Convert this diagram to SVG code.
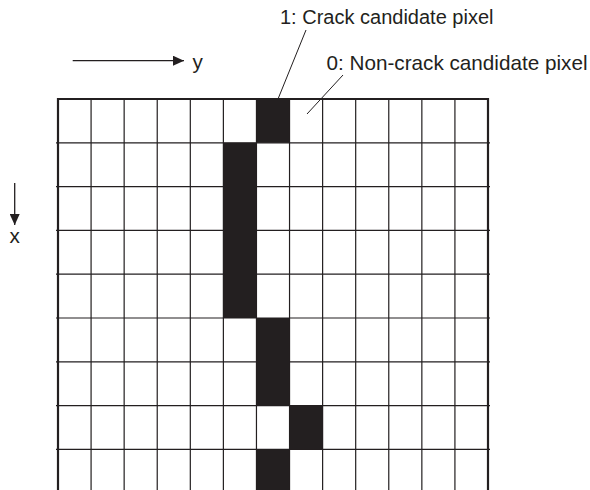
<svg xmlns="http://www.w3.org/2000/svg" width="590" height="490" viewBox="0 0 590 490">
  <style>
    .t { font-family: "Liberation Sans", Arial, Helvetica, sans-serif; font-size: 20px; fill: #231f20; }
    .g { stroke: #231f20; stroke-width: 1.2; fill: none; }
    .b { stroke: #231f20; stroke-width: 2.2; fill: none; }
    .c { fill: #231f20; }
    .ln { stroke: #231f20; stroke-width: 1; fill: none; }
    .ax { stroke: #231f20; stroke-width: 1.3; fill: none; }
  </style>
  <defs>
    <marker id="ah" viewBox="0 0 10 10" refX="10" refY="5" markerWidth="11" markerHeight="10" markerUnits="userSpaceOnUse" orient="auto" preserveAspectRatio="none">
      <path d="M0,0 L10,5 L0,10 Z" fill="#231f20"/>
    </marker>
  </defs>
  <rect width="590" height="490" fill="#ffffff"/>

  <g id="grid">
    <g class="g">
      <path d="M91.08,99V490M124.15,99V490M157.23,99V490M190.31,99V490M223.38,99V490M256.46,99V490M289.54,99V490M322.62,99V490M355.69,99V490M388.77,99V490M421.85,99V490M454.92,99V490"/>
      <path d="M56,142.8H490M56,186.6H490M56,230.4H490M56,274.2H490M56,318H490M56,361.8H490M56,405.6H490M56,449.4H490"/>
    </g>
  </g>

  <g id="cells">
    <rect class="c" x="256.46" y="99" width="33.08" height="43.8"/>
    <rect class="c" x="223.38" y="142.8" width="33.08" height="175.2"/>
    <rect class="c" x="256.46" y="318" width="33.08" height="87.6"/>
    <rect class="c" x="289.54" y="405.6" width="33.08" height="43.8"/>
    <rect class="c" x="256.46" y="449.4" width="33.08" height="40.6"/>
  </g>

  <g id="border">
    <path class="b" d="M58,490V99H488V490"/>
  </g>

  <g id="connectors">
    <line class="ax" x1="72.7" y1="60.7" x2="184" y2="60.7" marker-end="url(#ah)"/>
    <line class="ax" x1="14.7" y1="183" x2="14.7" y2="225" marker-end="url(#ah)"/>
    <line class="ln" x1="306" y1="30" x2="278" y2="99"/>
    <line class="ln" x1="343" y1="75" x2="307" y2="114"/>
  </g>

  <g id="labels">
    <text class="t" x="280" y="24">1: Crack candidate pixel</text>
    <text class="t" x="326.5" y="70" style="font-size:20.7px">0: Non-crack candidate pixel</text>
    <text class="t" x="192.5" y="69" style="font-size:20.7px">y</text>
    <text class="t" x="14.7" y="243" text-anchor="middle" style="font-size:20.7px">x</text>
  </g>
</svg>
